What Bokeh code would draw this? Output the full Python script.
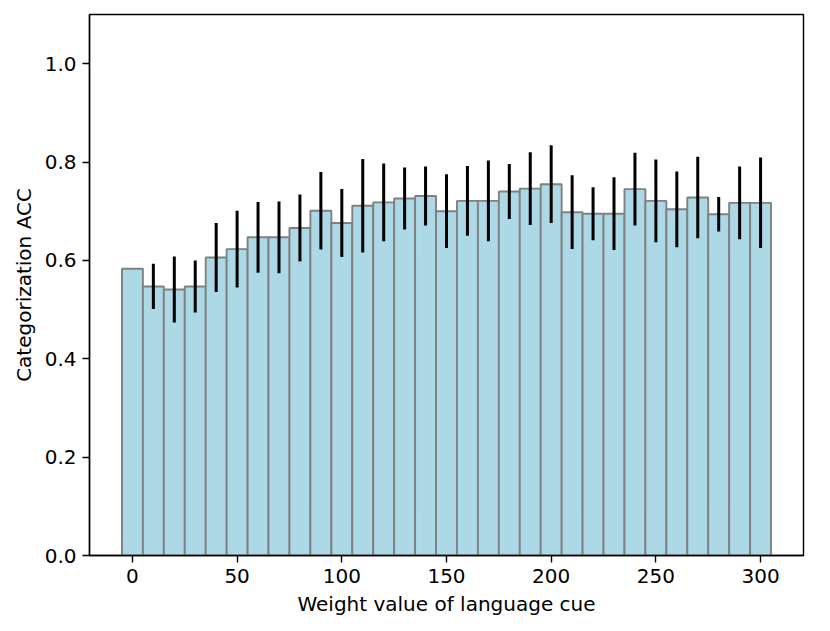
from bokeh.plotting import figure
from bokeh.models import Range1d, FixedTicker, ColumnDataSource, CustomJSTickFormatter
from bokeh.embed import file_html
from bokeh.resources import INLINE

weights = [0, 10, 20, 30, 40, 50, 60, 70, 80, 90, 100, 110, 120, 130, 140, 150,
           160, 170, 180, 190, 200, 210, 220, 230, 240, 250, 260, 270, 280, 290, 300]
acc = [0.583, 0.547, 0.541, 0.547, 0.606, 0.623, 0.647, 0.647, 0.666, 0.701, 0.676,
       0.711, 0.718, 0.726, 0.731, 0.700, 0.721, 0.721, 0.740, 0.746, 0.755, 0.698,
       0.695, 0.695, 0.745, 0.721, 0.704, 0.728, 0.694, 0.717, 0.717]
err = [0.0, 0.046, 0.067, 0.053, 0.070, 0.078, 0.072, 0.073, 0.068, 0.079, 0.069,
       0.095, 0.079, 0.063, 0.060, 0.075, 0.071, 0.082, 0.056, 0.074, 0.079, 0.075,
       0.054, 0.074, 0.074, 0.084, 0.077, 0.083, 0.035, 0.074, 0.092]
x_ticks = [0, 50, 100, 150, 200, 250, 300]
y_ticks = [0.0, 0.2, 0.4, 0.6, 0.8, 1.0]

FONT = "DejaVu Sans"

p = figure(width=814, height=623, output_backend="svg", toolbar_location=None,
           x_range=Range1d(-20.5, 320.5), y_range=Range1d(0, 1.1),
           min_border_left=89, min_border_right=11, min_border_top=14, min_border_bottom=68)

src = ColumnDataSource(dict(x=weights, top=acc))
p.vbar(x="x", top="top", bottom=0, width=10, source=src,
       fill_color="#add8e6", line_color="#808080", line_width=1.9)

ex = [w for w, e in zip(weights, err) if e > 0]
ey0 = [a - e for a, e in zip(acc, err) if e > 0]
ey1 = [a + e for a, e in zip(acc, err) if e > 0]
p.segment(x0=ex, y0=ey0, x1=ex, y1=ey1, line_color="black", line_width=3)

p.xgrid.visible = False
p.ygrid.visible = False
p.outline_line_color = "black"
p.outline_line_width = 1.4
p.outline_line_alpha = 1.0

p.xaxis.ticker = FixedTicker(ticks=x_ticks)
p.yaxis.ticker = FixedTicker(ticks=y_ticks)
p.yaxis.formatter = CustomJSTickFormatter(code="return tick.toFixed(1);")

for ax in (p.xaxis[0], p.yaxis[0]):
    ax.axis_line_color = "black"
    ax.axis_line_width = 1.4
    ax.major_tick_line_color = "black"
    ax.major_tick_line_width = 1.4
    ax.major_tick_out = 7
    ax.major_tick_in = 0
    ax.minor_tick_line_color = None
    ax.major_label_text_font = FONT
    ax.major_label_text_font_size = "20px"
    ax.major_label_text_color = "black"
    ax.axis_label_text_font = FONT
    ax.axis_label_text_font_size = "20px"
    ax.axis_label_text_font_style = "normal"
    ax.axis_label_text_color = "black"
    ax.major_label_standoff = 6

p.xaxis.axis_label = "Weight value of language cue"
p.yaxis.axis_label = "Categorization ACC"
p.xaxis.axis_label_standoff = 6
p.yaxis.axis_label_standoff = 6

open("out.html", "w").write(file_html(p, INLINE))
